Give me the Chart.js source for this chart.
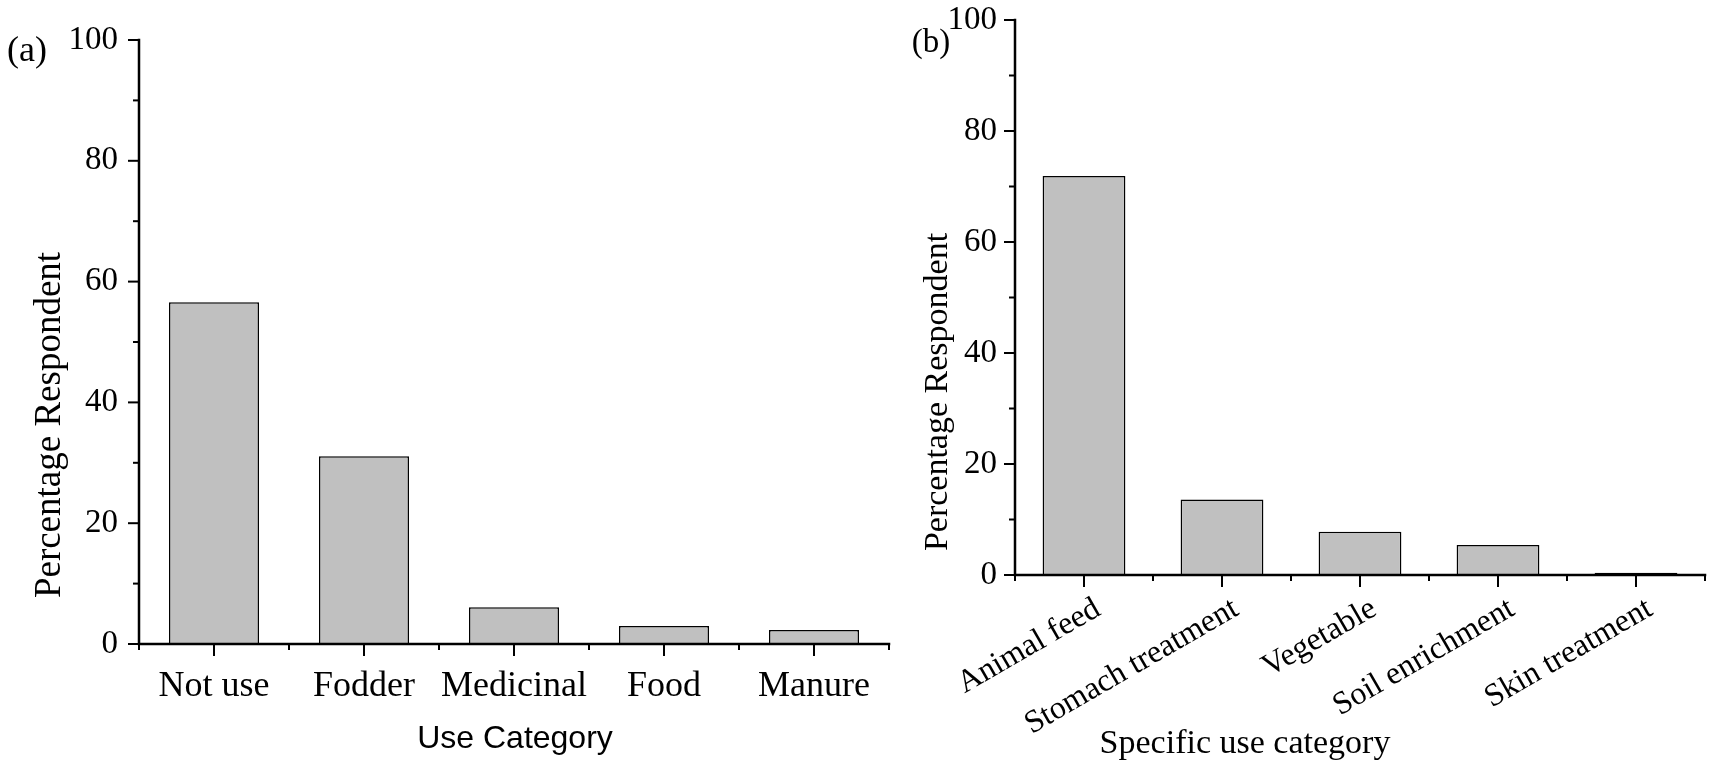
<!DOCTYPE html>
<html>
<head>
<meta charset="utf-8">
<script src="https://cdn.jsdelivr.net/npm/chart.js@4.4.0/dist/chart.umd.min.js"></script>
<style>
html, body { margin: 0; padding: 0; background: #fff; }
#wrap { position: relative; width: 1713px; height: 767px; overflow: hidden; background: #fff; }
#chartA { position: absolute; left: 0; top: 0; }
#chartB { position: absolute; left: 900px; top: 0; }
</style>
</head>
<body>
<div id="wrap">
  <canvas id="chartA" width="900" height="767"></canvas>
  <canvas id="chartB" width="813" height="767"></canvas>
</div>
<script>
// data
const useCategories = ['Not use', 'Fodder', 'Medicinal', 'Food', 'Manure'];
const useValues = [56.6, 31.1, 6.1, 3.0, 2.3];

const specificCategories = ['Animal feed', 'Stomach treatment', 'Vegetable', 'Soil enrichment', 'Skin treatment'];
const specificValues = [71.9, 13.6, 7.8, 5.4, 0.4];

const yTickLabels = [0, 20, 40, 60, 80, 100];

const SERIF = '"Liberation Serif", "Times New Roman", serif';
const SANS = '"Liberation Sans", Arial, sans-serif';

// axis lines, major/minor tick marks and titles, drawn on top of the bars
const framePlugin = {
  id: 'frame',
  afterDatasetsDraw(chart, args, opts) {
    const ctx = chart.ctx;
    const xs = chart.scales.x;
    const ys = chart.scales.y;
    const area = chart.chartArea;

    ctx.save();
    ctx.strokeStyle = '#000';
    ctx.lineWidth = 2.5;
    ctx.lineCap = 'square';
    ctx.beginPath();
    ctx.moveTo(area.left, area.top);
    ctx.lineTo(area.left, area.bottom);
    ctx.lineTo(area.right, area.bottom);
    ctx.stroke();

    ctx.lineWidth = 2;
    ctx.lineCap = 'butt';
    ys.ticks.forEach(t => {
      const py = ys.getPixelForValue(t.value);
      const len = yTickLabels.includes(t.value) ? 11 : 6;
      ctx.beginPath();
      ctx.moveTo(area.left - len, py);
      ctx.lineTo(area.left, py);
      ctx.stroke();
    });

    const n = chart.data.labels.length;
    const step = xs.getPixelForValue(1) - xs.getPixelForValue(0);
    for (let i = 0; i < n; i++) {
      const px = xs.getPixelForValue(i);
      ctx.beginPath();
      ctx.moveTo(px, area.bottom);
      ctx.lineTo(px, area.bottom + 12);
      ctx.stroke();
    }
    for (let i = 0; i <= n; i++) {
      const px = xs.getPixelForValue(i) - step / 2;
      ctx.beginPath();
      ctx.moveTo(px, area.bottom);
      ctx.lineTo(px, area.bottom + 6);
      ctx.stroke();
    }

    ctx.fillStyle = '#000';
    ctx.textAlign = 'center';
    ctx.textBaseline = 'middle';

    const xt = opts.xTitle;
    ctx.font = xt.font;
    ctx.fillText(xt.text, xt.x, xt.y);

    const yt = opts.yTitle;
    ctx.save();
    ctx.translate(yt.x, yt.y);
    ctx.rotate(-Math.PI / 2);
    ctx.font = yt.font;
    ctx.fillText(yt.text, 0, 0);
    ctx.restore();

    const tag = opts.tag;
    ctx.font = tag.font;
    ctx.fillText(tag.text, tag.x, tag.y);

    ctx.restore();
  }
};

function makeChart(id, labels, values, cfg) {
  return new Chart(document.getElementById(id), {
    type: 'bar',
    data: {
      labels: labels,
      datasets: [{
        data: values,
        backgroundColor: '#c0c0c0',
        borderColor: '#000',
        borderWidth: 1.5,
        barPercentage: 0.6,
        categoryPercentage: 1.0
      }]
    },
    options: {
      responsive: false,
      animation: false,
      devicePixelRatio: 1,
      layout: { padding: cfg.padding },
      plugins: {
        legend: { display: false },
        tooltip: { enabled: false },
        frame: cfg.frame
      },
      scales: {
        x: {
          grid: { display: false, drawTicks: false },
          border: { display: false },
          ticks: Object.assign({
            color: '#000',
            autoSkip: false
          }, cfg.xTicks),
          afterFit: s => {
            s.height = cfg.xHeight;
            s.paddingLeft = 0;
            s.paddingRight = 0;
          }
        },
        y: {
          min: 0,
          max: 100,
          grid: { display: false, drawTicks: false },
          border: { display: false },
          ticks: {
            stepSize: 10,
            color: '#000',
            font: { family: SERIF, size: 33 },
            padding: cfg.yPad,
            callback: v => yTickLabels.includes(v) ? String(v) : ''
          },
          afterFit: s => {
            s.width = cfg.yWidth;
            s.paddingTop = 0;
            s.paddingBottom = 0;
          }
        }
      }
    },
    plugins: [framePlugin]
  });
}

makeChart('chartA', useCategories, useValues, {
  padding: { top: 40, right: 11, left: 0, bottom: 0 },
  yWidth: 139,
  xHeight: 123,
  yPad: 21,
  xTicks: { font: { family: SERIF, size: 36 }, padding: 21, maxRotation: 0 },
  frame: {
    xTitle: { text: 'Use Category', font: '32px ' + SANS, x: 515, y: 739 },
    yTitle: { text: 'Percentage Respondent', font: '37px ' + SERIF, x: 50, y: 425 },
    tag: { text: '(a)', font: '36px ' + SERIF, x: 27, y: 52 }
  }
});

makeChart('chartB', specificCategories, specificValues, {
  padding: { top: 20, right: 8, left: 0, bottom: 0 },
  yWidth: 115,
  xHeight: 192,
  yPad: 18,
  xTicks: { font: { family: SERIF, size: 32 }, padding: 15, labelOffset: 14, minRotation: 30, maxRotation: 30 },
  frame: {
    xTitle: { text: 'Specific use category', font: '34px ' + SERIF, x: 345, y: 744 },
    yTitle: { text: 'Percentage Respondent', font: '34px ' + SERIF, x: 38, y: 392 },
    tag: { text: '(b)', font: '33px ' + SERIF, x: 31, y: 43 }
  }
});
</script>
</body>
</html>
